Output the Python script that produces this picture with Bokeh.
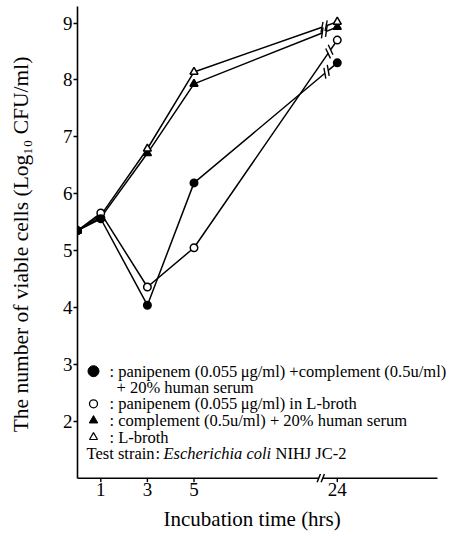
import math
from bokeh.plotting import figure
from bokeh.models import Label, FixedTicker, Title
from bokeh.embed import file_html
from bokeh.resources import INLINE

# ---------------- data ----------------
hours = [0, 1, 3, 5, 24]
pani_complement_serum = [5.35, 5.56, 4.04, 6.19, 8.30]   # filled circle
pani_lbroth = [5.35, 5.66, 4.36, 5.05, 8.70]             # open circle
complement_serum = [5.35, 5.58, 6.71, 7.93, 8.93]        # filled triangle
lbroth_only = [5.35, 5.62, 6.79, 8.14, 9.02]             # open triangle

y_ticks = [2, 3, 4, 5, 6, 7, 8, 9]
x_tick_hours = [1, 3, 5, 24]

legend_lines = [
    ": panipenem  (0.055\u2009\u03bcg/ml) +complement  (0.5u/ml)",
    "+ 20% human serum",
    ": panipenem  (0.055\u2009\u03bcg/ml)  in L-broth",
    ": complement  (0.5u/ml)  + 20% human serum",
    ": L-broth",
]

# ---------------- layout ----------------
W, H = 457, 538
BL, BR, BT, BB = 77, 0, 6, 56
kx, ky = 23.3, 56.9               # px per data unit
X0 = 0.0
X1 = X0 + (W - BL - BR) / kx       # frame right edge
X_AXIS_END = 15.45                 # where the drawn x axis stops
Y1 = 9.29
Y_AXIS = 1.0                       # value where the x axis line sits
Y0 = Y1 - (H - BT - BB) / ky       # frame bottom (a bit below the axis)

POS_24 = 11.15        # display position of 24 h after the axis break
AXIS_BREAK = 10.44


def xpos(t):
    return t if t <= 5 else POS_24 + (t - 24) * 0.2


SERIF = "Liberation Serif"

p = figure(width=W, height=H, x_range=(X0, X1), y_range=(Y0, Y1),
           output_backend="svg", toolbar_location=None,
           min_border_left=BL, min_border_right=BR,
           min_border_top=BT, min_border_bottom=BB)
p.outline_line_color = None
p.grid.grid_line_color = None
p.background_fill_color = "white"
p.border_fill_color = "white"

for ax in (p.xaxis[0], p.yaxis[0]):
    ax.axis_line_width = 1.6
    ax.axis_line_color = "black"
    ax.major_tick_line_color = "black"
    ax.major_tick_line_width = 1.4
    ax.major_tick_in = 0
    ax.major_tick_out = 4
    ax.minor_tick_line_color = None
    ax.major_label_text_font = SERIF
    ax.major_label_text_font_size = "19px"
    ax.major_label_text_color = "black"
    ax.axis_label_text_font = SERIF
    ax.axis_label_text_font_style = "normal"
    ax.axis_label_text_color = "black"

# y axis
p.yaxis.ticker = FixedTicker(ticks=y_ticks)
p.yaxis.bounds = (Y_AXIS, Y1)
p.yaxis.major_label_standoff = 1
p.yaxis.axis_label = "The number of viable cells (Log\u2081\u2080 CFU/ml)"
p.yaxis.axis_label_text_font_size = "21.5px"
p.yaxis.axis_label_standoff = 27

# x axis: labels from Bokeh, line/ticks drawn at Y_AXIS (with the break)
xt = [xpos(t) for t in x_tick_hours]
p.xaxis.ticker = FixedTicker(ticks=xt)
p.xaxis.major_label_overrides = {v: str(t) for v, t in zip(xt, x_tick_hours)}
p.xaxis.axis_line_color = None
p.xaxis.major_tick_line_color = None
p.xaxis.major_tick_out = 0
p.xaxis.major_label_standoff = 0

p.add_layout(Title(text="Incubation time (hrs)", align="left", offset=86,
                   text_font=SERIF, text_font_style="normal",
                   text_font_size="21px", text_color="black", standoff=12),
             "below")

AG = 2.0 / kx   # half gap of axis break in data units
p.segment(x0=[X0, AXIS_BREAK + AG], y0=[Y_AXIS, Y_AXIS],
          x1=[AXIS_BREAK - AG, X_AXIS_END], y1=[Y_AXIS, Y_AXIS],
          line_color="black", line_width=1.6)
p.segment(x0=xt, y0=[Y_AXIS] * len(xt), x1=xt, y1=[Y_AXIS - 4 / ky] * len(xt),
          line_color="black", line_width=1.4)
a = math.radians(68)
hx, hy = math.cos(a) * 4.5 / kx, math.sin(a) * 4.5 / ky
p.segment(x0=[AXIS_BREAK - AG - hx, AXIS_BREAK + AG - hx], y0=[Y_AXIS - hy] * 2,
          x1=[AXIS_BREAK - AG + hx, AXIS_BREAK + AG + hx], y1=[Y_AXIS + hy] * 2,
          line_color="black", line_width=1.4)

# ---------------- series with break marks ----------------
series = [
    (complement_serum, "triangle", "black"),
    (lbroth_only, "triangle", "white"),
    (pani_lbroth, "circle", "white"),
    (pani_complement_serum, "circle", "black"),
]

GAP = 2.2     # px half gap
DIST = 14.0   # px from end point to break centre
SL = 5.5      # px half length of slash

for vals, mk, fill in series:
    xs = [xpos(t) for t in hours]
    ys = list(vals)
    dxp = (xs[-1] - xs[-2]) * kx
    dyp = (ys[-1] - ys[-2]) * ky
    L = math.hypot(dxp, dyp)
    ux, uy = dxp / L, dyp / L
    cx = xs[-1] - DIST * ux / kx
    cy = ys[-1] - DIST * uy / ky
    b1 = (cx - GAP * ux / kx, cy - GAP * uy / ky)
    b2 = (cx + GAP * ux / kx, cy + GAP * uy / ky)
    p.line(xs[:-1] + [b1[0]], ys[:-1] + [b1[1]], line_color="black", line_width=1.5)
    p.line([b2[0], xs[-1]], [b2[1], ys[-1]], line_color="black", line_width=1.5)
    ang = math.atan2(uy, ux) + math.radians(60)
    sx, sy = math.cos(ang) * SL / kx, math.sin(ang) * SL / ky
    p.segment(x0=[b1[0] - sx, b2[0] - sx], y0=[b1[1] - sy, b2[1] - sy],
              x1=[b1[0] + sx, b2[0] + sx], y1=[b1[1] + sy, b2[1] + sy],
              line_color="black", line_width=1.4)

for vals, mk, fill in series:
    xs = [xpos(t) for t in hours]
    p.scatter(xs, vals, marker=mk, size=7.5 if mk == "circle" else 8,
              fill_color=fill, line_color="black", line_width=1.5)

# ---------------- legend (text) ----------------
row_px = [370.7, 386.7, 403.3, 420.0, 436.7, 453.3]


def y_of(py):
    return Y1 - (py - BT) / ky


def x_of(px):
    return X0 + (px - BL) / kx


mx = x_of(93)
p.scatter([mx], [y_of(row_px[0])], marker="circle", size=11,
          fill_color="black", line_color="black")
p.scatter([mx], [y_of(row_px[2])], marker="circle", size=8,
          fill_color="white", line_color="black", line_width=1.3)
p.scatter([mx], [y_of(row_px[3])], marker="triangle", size=8.5,
          fill_color="black", line_color="black")
p.scatter([mx], [y_of(row_px[4])], marker="triangle", size=8,
          fill_color="white", line_color="black", line_width=1.2)

LEG_FS = "16.5px"
text_x = [109, 116, 109, 109, 109]
rows = [0, 1, 2, 3, 4]
for tx, r, txt in zip(text_x, rows, legend_lines):
    p.add_layout(Label(x=x_of(tx), y=y_of(row_px[r]), text=txt,
                       text_font=SERIF, text_font_size=LEG_FS,
                       text_baseline="middle", text_color="black"))

for tx, txt, style in [(86, "Test strain", "normal"), (155, ":", "normal"),
                       (163, "Escherichia coli", "italic"), (275, "NIHJ  JC-2", "normal")]:
    p.add_layout(Label(x=x_of(tx), y=y_of(row_px[5]), text=txt,
                       text_font=SERIF, text_font_size=LEG_FS, text_font_style=style,
                       text_baseline="middle", text_color="black"))

open("out.html", "w").write(file_html(p, INLINE))
